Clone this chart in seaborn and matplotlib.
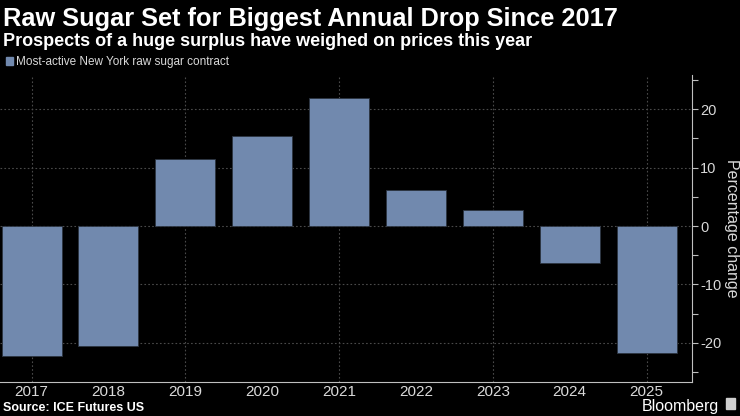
import matplotlib
matplotlib.use("Agg")
import matplotlib.pyplot as plt
import seaborn as sns
import pandas as pd
from matplotlib.ticker import MultipleLocator

# data
years = ["2017", "2018", "2019", "2020", "2021", "2022", "2023", "2024", "2025"]
pct_change = [-22.2, -20.5, 11.5, 15.4, 21.9, 6.2, 2.7, -6.4, -21.8]

title = "Raw Sugar Set for Biggest Annual Drop Since 2017"
subtitle = "Prospects of a huge surplus have weighed on prices this year"
legend_label = "Most-active New York raw sugar contract"
source = "Source: ICE Futures US"

BG = "black"
BAR = "#7189AE"
TXT = "#d9d9d9"
GRID = "#4a4a4a"

sns.set_style("dark")
plt.rcParams["font.family"] = ["Liberation Sans", "DejaVu Sans"]

df = pd.DataFrame({"year": years, "pct": pct_change})

fig = plt.figure(figsize=(7.4, 4.16), dpi=100, facecolor=BG)
ax = fig.add_axes([0.0, 0.082, 0.935, 0.738])
ax.set_facecolor(BG)

sns.barplot(data=df, x="year", y="pct", color=BAR, width=0.78,
            saturation=1, edgecolor="#2c3440", linewidth=0.6, ax=ax, zorder=3)

ax.set_xlim(-0.41, len(years) - 0.41)

# gridlines
ax.yaxis.set_major_locator(MultipleLocator(10))
ax.yaxis.set_minor_locator(MultipleLocator(5))
ax.grid(False)
for v in range(-20, 21, 10):
    ax.axhline(v, color=GRID, lw=0.8, ls=(0, (1.5, 2)), zorder=1)
for i in range(0, len(years), 2):
    ax.axvline(i, color=GRID, lw=0.8, ls=(0, (1.5, 2)), zorder=1)

ax.yaxis.tick_right()
ax.set_ylabel("Percentage change", rotation=270, color=TXT, fontsize=11.5,
              va="center", ha="center")
ax.yaxis.set_label_coords(1.057, 0.5)
ax.set_xlabel("")

for s in ["top", "left"]:
    ax.spines[s].set_visible(False)
for s in ["right", "bottom"]:
    ax.spines[s].set_color("#bfbfbf")
    ax.spines[s].set_linewidth(0.8)

ax.tick_params(axis="y", which="both", colors="#bfbfbf", labelcolor=TXT,
               labelsize=10.5, length=4, width=0.8, direction="out", pad=2)
ax.tick_params(axis="x", colors=TXT, labelsize=11, length=0, pad=2)
ax.set_yticks(ax.get_yticks())
ax.set_yticklabels([f"-{abs(int(t))}" if t < 0 else f"{int(t)}"
                    for t in ax.get_yticks()])
ax.set_ylim(-26.7, 25.9)

# titles and notes
fig.text(0.004, 0.937, title, color="white", fontsize=18.3, fontweight="bold")
fig.text(0.004, 0.889, subtitle, color="white", fontsize=13, fontweight="bold")
fig.patches.append(plt.Rectangle((0.008, 0.843), 0.009, 0.019, color=BAR,
                                 transform=fig.transFigure, figure=fig))
fig.text(0.021, 0.844, legend_label, color=TXT, fontsize=8.5)
fig.text(0.004, 0.012, source, color="white", fontsize=9, fontweight="bold")
fig.text(0.972, 0.012, "Bloomberg", color="white", fontsize=11.5, ha="right")
fig.patches.append(plt.Rectangle((0.981, 0.016), 0.012, 0.028, color="#cfcfcf",
                                 transform=fig.transFigure, figure=fig))

fig.savefig("out.png", dpi=100, facecolor=BG)
